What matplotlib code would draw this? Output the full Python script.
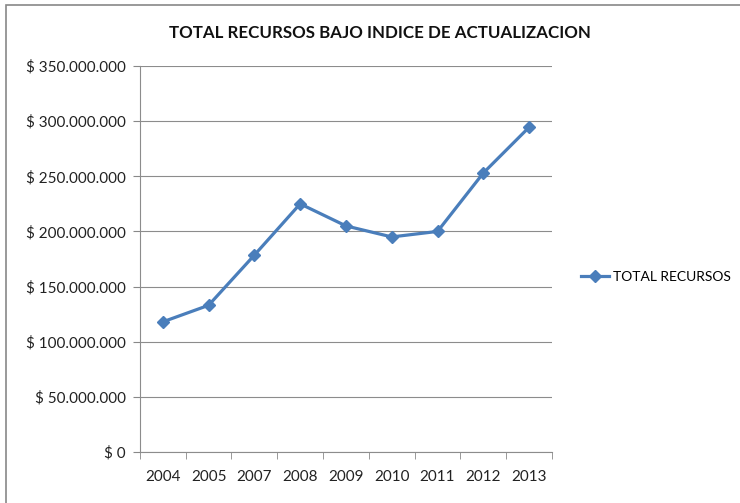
import matplotlib.pyplot as plt
from matplotlib.patches import Rectangle
from matplotlib.ticker import FuncFormatter

years = ['2004', '2005', '2007', '2008', '2009', '2010', '2011', '2012', '2013']
total_recursos = [118_000_000, 133_000_000, 178_500_000, 225_000_000, 205_000_000,
                  195_000_000, 200_000_000, 253_000_000, 294_500_000]

plt.rcParams['font.family'] = ['Lato', 'DejaVu Sans']

fig = plt.figure(figsize=(7.4, 5.03), dpi=100)
ax = fig.add_axes([0.189, 0.1014, 0.557, 0.7674])

x = list(range(len(years)))
ax.plot(x, total_recursos, color='#4a7ebb', linewidth=2.3, marker='D', markersize=6.5,
        label='TOTAL RECURSOS')

ax.set_xlim(-0.5, len(years) - 0.5)
ax.set_ylim(0, 350_000_000)
ax.set_yticks(range(0, 350_000_001, 50_000_000))
ax.yaxis.set_major_formatter(FuncFormatter(lambda v, p: '$ ' + f'{int(v):,}'.replace(',', '.')))
ax.set_xticks(x)
ax.set_xticklabels(years)
ax.set_xticks([i - 0.5 for i in range(len(years) + 1)], minor=True)
ax.tick_params(axis='x', which='major', length=0, pad=13, labelsize=11, colors='#222222')
ax.tick_params(axis='x', which='minor', length=5, color='#888888')
ax.tick_params(axis='y', length=5, color='#888888', labelsize=11, labelcolor='#222222', pad=5)
ax.grid(axis='y', color='#8c8c8c', linewidth=0.8)
ax.set_axisbelow(True)
for s in ['top', 'right']:
    ax.spines[s].set_visible(False)
ax.spines['left'].set_color('#8c8c8c')
ax.spines['bottom'].set_color('#8c8c8c')

fig.text(0.514, 0.935, 'TOTAL RECURSOS BAJO INDICE DE ACTUALIZACION', ha='center', va='center',
         fontsize=12.2, fontweight='bold', color='#111111')

fig.legend(loc='center left', bbox_to_anchor=(0.778, 0.449), frameon=False, fontsize=10,
           handlelength=2.0, handletextpad=0.3, borderaxespad=0)

fig.patches.append(Rectangle((0.008, -0.05), 1.1, 1.04, transform=fig.transFigure,
                             fill=False, edgecolor='#888888', linewidth=1.2))

fig.savefig('out.png', dpi=100)
